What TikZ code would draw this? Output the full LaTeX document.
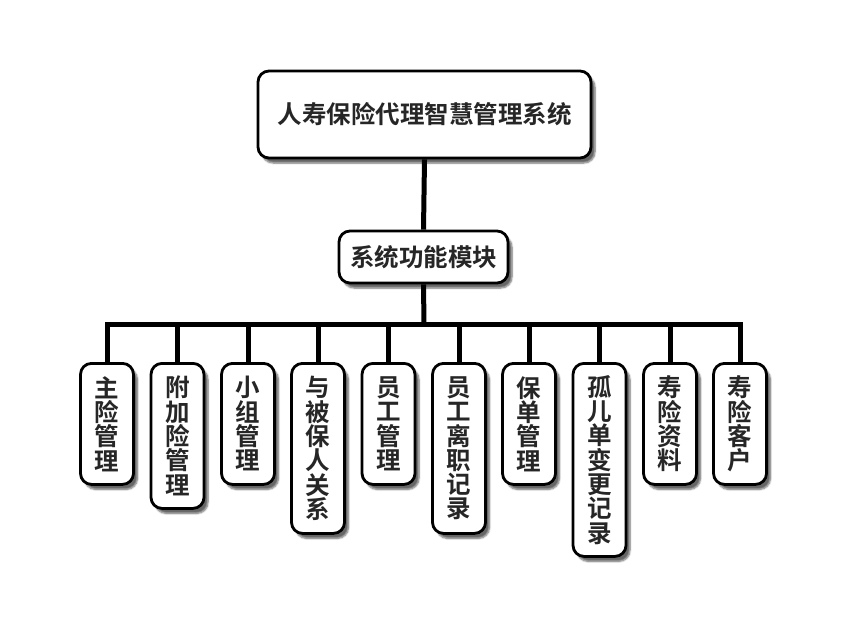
\documentclass[tikz,border=0pt]{standalone}
\usepackage{fontspec}
\newfontfamily\cjk{Noto Sans CJK SC}[BoldFont={Noto Sans CJK SC Bold}]
\usetikzlibrary{shadows.blur}
\begin{document}
\begin{tikzpicture}[x=1pt,y=-1pt,
  box/.style={draw=black, line width=2.8pt, rounded corners=11pt, fill=white,
    blur shadow={shadow xshift=4pt, shadow yshift=-5pt, shadow blur steps=6, shadow opacity=60},
    text=black!85, font=\cjk\bfseries\fontsize{24.5}{24.3}\selectfont, inner sep=0pt, align=center},
  leaf/.style={box, anchor=north, minimum width=53pt},
  conn/.style={line width=5pt, draw=black, line join=miter}]
\useasboundingbox (0,0) rectangle (846,632);
\node[box, minimum width=333pt, minimum height=87pt] (top) at (424.5,114.5) {人寿保险代理智慧管理系统};
\node[box, minimum width=169pt, minimum height=52pt] (mid) at (423.5,257) {系统功能模块};
\coordinate (bar) at (424,324);
\node[leaf, minimum height=121pt] (l1) at (107,362) {主\\险\\管\\理};
\node[leaf, minimum height=145pt] (l2) at (177.5,362) {附\\加\\险\\管\\理};
\node[leaf, minimum height=121pt] (l3) at (248,362) {小\\组\\管\\理};
\node[leaf, minimum height=170pt] (l4) at (318,362) {与\\被\\保\\人\\关\\系};
\node[leaf, minimum height=121pt] (l5) at (388.5,362) {员\\工\\管\\理};
\node[leaf, minimum height=170pt] (l6) at (459,362) {员\\工\\离\\职\\记\\录};
\node[leaf, minimum height=121pt] (l7) at (529,362) {保\\单\\管\\理};
\node[leaf, minimum height=193pt] (l8) at (599.5,362) {孤\\儿\\单\\变\\更\\记\\录};
\node[leaf, minimum height=121pt] (l9) at (670,362) {寿\\险\\资\\料};
\node[leaf, minimum height=121pt] (l10) at (740,362) {寿\\险\\客\\户};
\draw[conn] (top.south) -- (mid.north);
\draw[conn] (mid.south) -- (bar);
\foreach \n in {l1,l2,l3,l4,l5,l6,l7,l8,l9,l10}{
  \draw[conn] (bar) -| (\n.north);
}
\end{tikzpicture}
\end{document}
